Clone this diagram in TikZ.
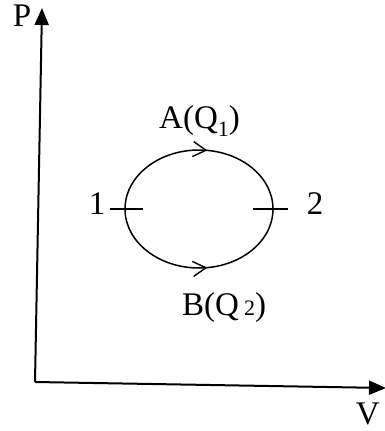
\documentclass[tikz,border=0pt]{standalone}
\usepackage{fontspec}
\setmainfont{Liberation Serif}
\usetikzlibrary{arrows.meta,decorations.markings}
\begin{document}
\begin{tikzpicture}[x=1pt,y=-1pt,
  axis/.style={line width=2pt, -{Triangle[length=17pt,width=14pt]}},
  lbl/.style={inner sep=0pt, font=\fontsize{33}{33}\selectfont},
  proc/.style={line width=1.5pt, postaction={decorate},
    decoration={markings, mark=at position 0.54 with {\arrow[line width=1.4pt]{Straight Barb[length=13pt,width=15pt]}}}},
  tickmark/.style={line width=2.5pt}]
\useasboundingbox (0,0) rectangle (385,431);
\coordinate (O) at (35,382);
\coordinate (Ptip) at (42,8);
\coordinate (Vtip) at (386,388);
\draw[axis] (O) -- (Ptip);
\draw[axis] (O) -- (Vtip);
\coordinate (p1) at (125,209);
\coordinate (p2) at (273,209);
\draw[proc] (p1) arc[start angle=180,end angle=360,x radius=74,y radius=59];
\draw[proc] (p1) arc[start angle=180,end angle=0,x radius=74,y radius=59];
\draw[tickmark] ([xshift=-15pt]p1) -- ([xshift=18pt]p1);
\draw[tickmark] ([xshift=-20pt]p2) -- ([xshift=15pt]p2);
\node[lbl] (P) at (22,16) {P};
\node[lbl, anchor=east] (V) at (380,414) {V};
\node[lbl] (one) at (97,204) {1};
\node[lbl] (two) at (315,204) {2};
\node[lbl, anchor=base west] (A) at (159,128) {A(Q\raisebox{-8pt}{\fontsize{22}{22}\selectfont 1})};
\node[lbl, anchor=base west] (B) at (182,315) {B(Q\hspace{5pt}{\fontsize{22}{22}\selectfont 2})};
\end{tikzpicture}
\end{document}
